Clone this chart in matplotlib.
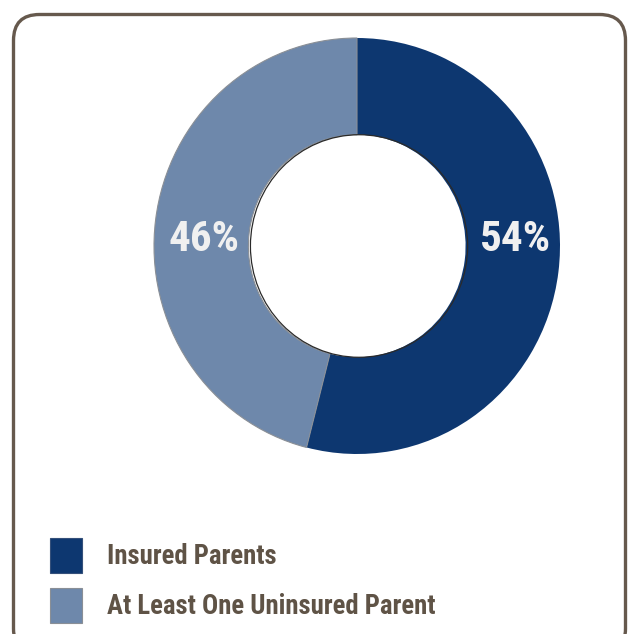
import matplotlib
matplotlib.use('Agg')
import matplotlib.pyplot as plt
from matplotlib.patches import FancyBboxPatch, Rectangle, Ellipse

# Data
labels = ['Insured Parents', 'At Least One Uninsured Parent']
shares = [54, 46]

# Style
DARK_BLUE = '#0d3770'
LIGHT_BLUE = '#6e88ab'
BROWN = '#5f5346'
BORDER = '#66594d'
LABEL_COL = '#f0f0f0'

plt.rcParams['font.family'] = ['Roboto Condensed', 'PT Sans Narrow', 'DejaVu Sans']

W, H = 628, 634
fig = plt.figure(figsize=(W / 100, H / 100), dpi=100, facecolor='white')

# background layer in pixel coordinates
bg = fig.add_axes([0, 0, 1, 1])
bg.set_xlim(0, W)
bg.set_ylim(H, 0)
bg.axis('off')

frame = FancyBboxPatch((13.5, 14.5), 612, 640,
                       boxstyle='round,pad=0,rounding_size=26',
                       facecolor='white', edgecolor=BORDER, linewidth=2.4,
                       clip_on=False)
bg.add_patch(frame)

# legend
colors = [DARK_BLUE, LIGHT_BLUE]
edges = ['#35507a', '#8a8f96']
for i, (lab, col) in enumerate(zip(labels, colors)):
    y0 = 538 + i * 50
    bg.add_patch(Rectangle((50, y0), 32, 35, facecolor=col,
                           edgecolor=edges[i], linewidth=0.8))
    bg.text(107, y0 + 18, lab, ha='left', va='center', color=BROWN,
            fontsize=19.3, fontweight='bold')

# donut
cx, cy, rx, ry = 357, 246, 203, 208
ax = fig.add_axes([(cx - rx) / W, 1 - (cy + ry) / H, 2 * rx / W, 2 * ry / H])
ax.axis('off')

inner = 0.535
wedges, _ = ax.pie(shares, colors=colors, startangle=90, counterclock=False,
                   radius=1, wedgeprops=dict(width=1 - inner, linewidth=0))
ax.set_aspect('auto')
ax.set_xlim(-1, 1)
ax.set_ylim(-1, 1)
wedges[1].set_edgecolor('#8a8f96')
wedges[1].set_linewidth(0.8)
ax.add_patch(Ellipse((0.01, 0.0), 2 * inner, 2 * inner, facecolor='none',
                     edgecolor='#2a2a2a', linewidth=0.9))

mid = (1 + inner) / 2
for sign, val in zip([1, -1], shares):
    ax.text(sign * mid + 0.015, 0.03, f'{val}%', ha='center', va='center',
            color=LABEL_COL, fontsize=31, fontweight='bold')

fig.savefig('out.png', dpi=100, facecolor='white')
